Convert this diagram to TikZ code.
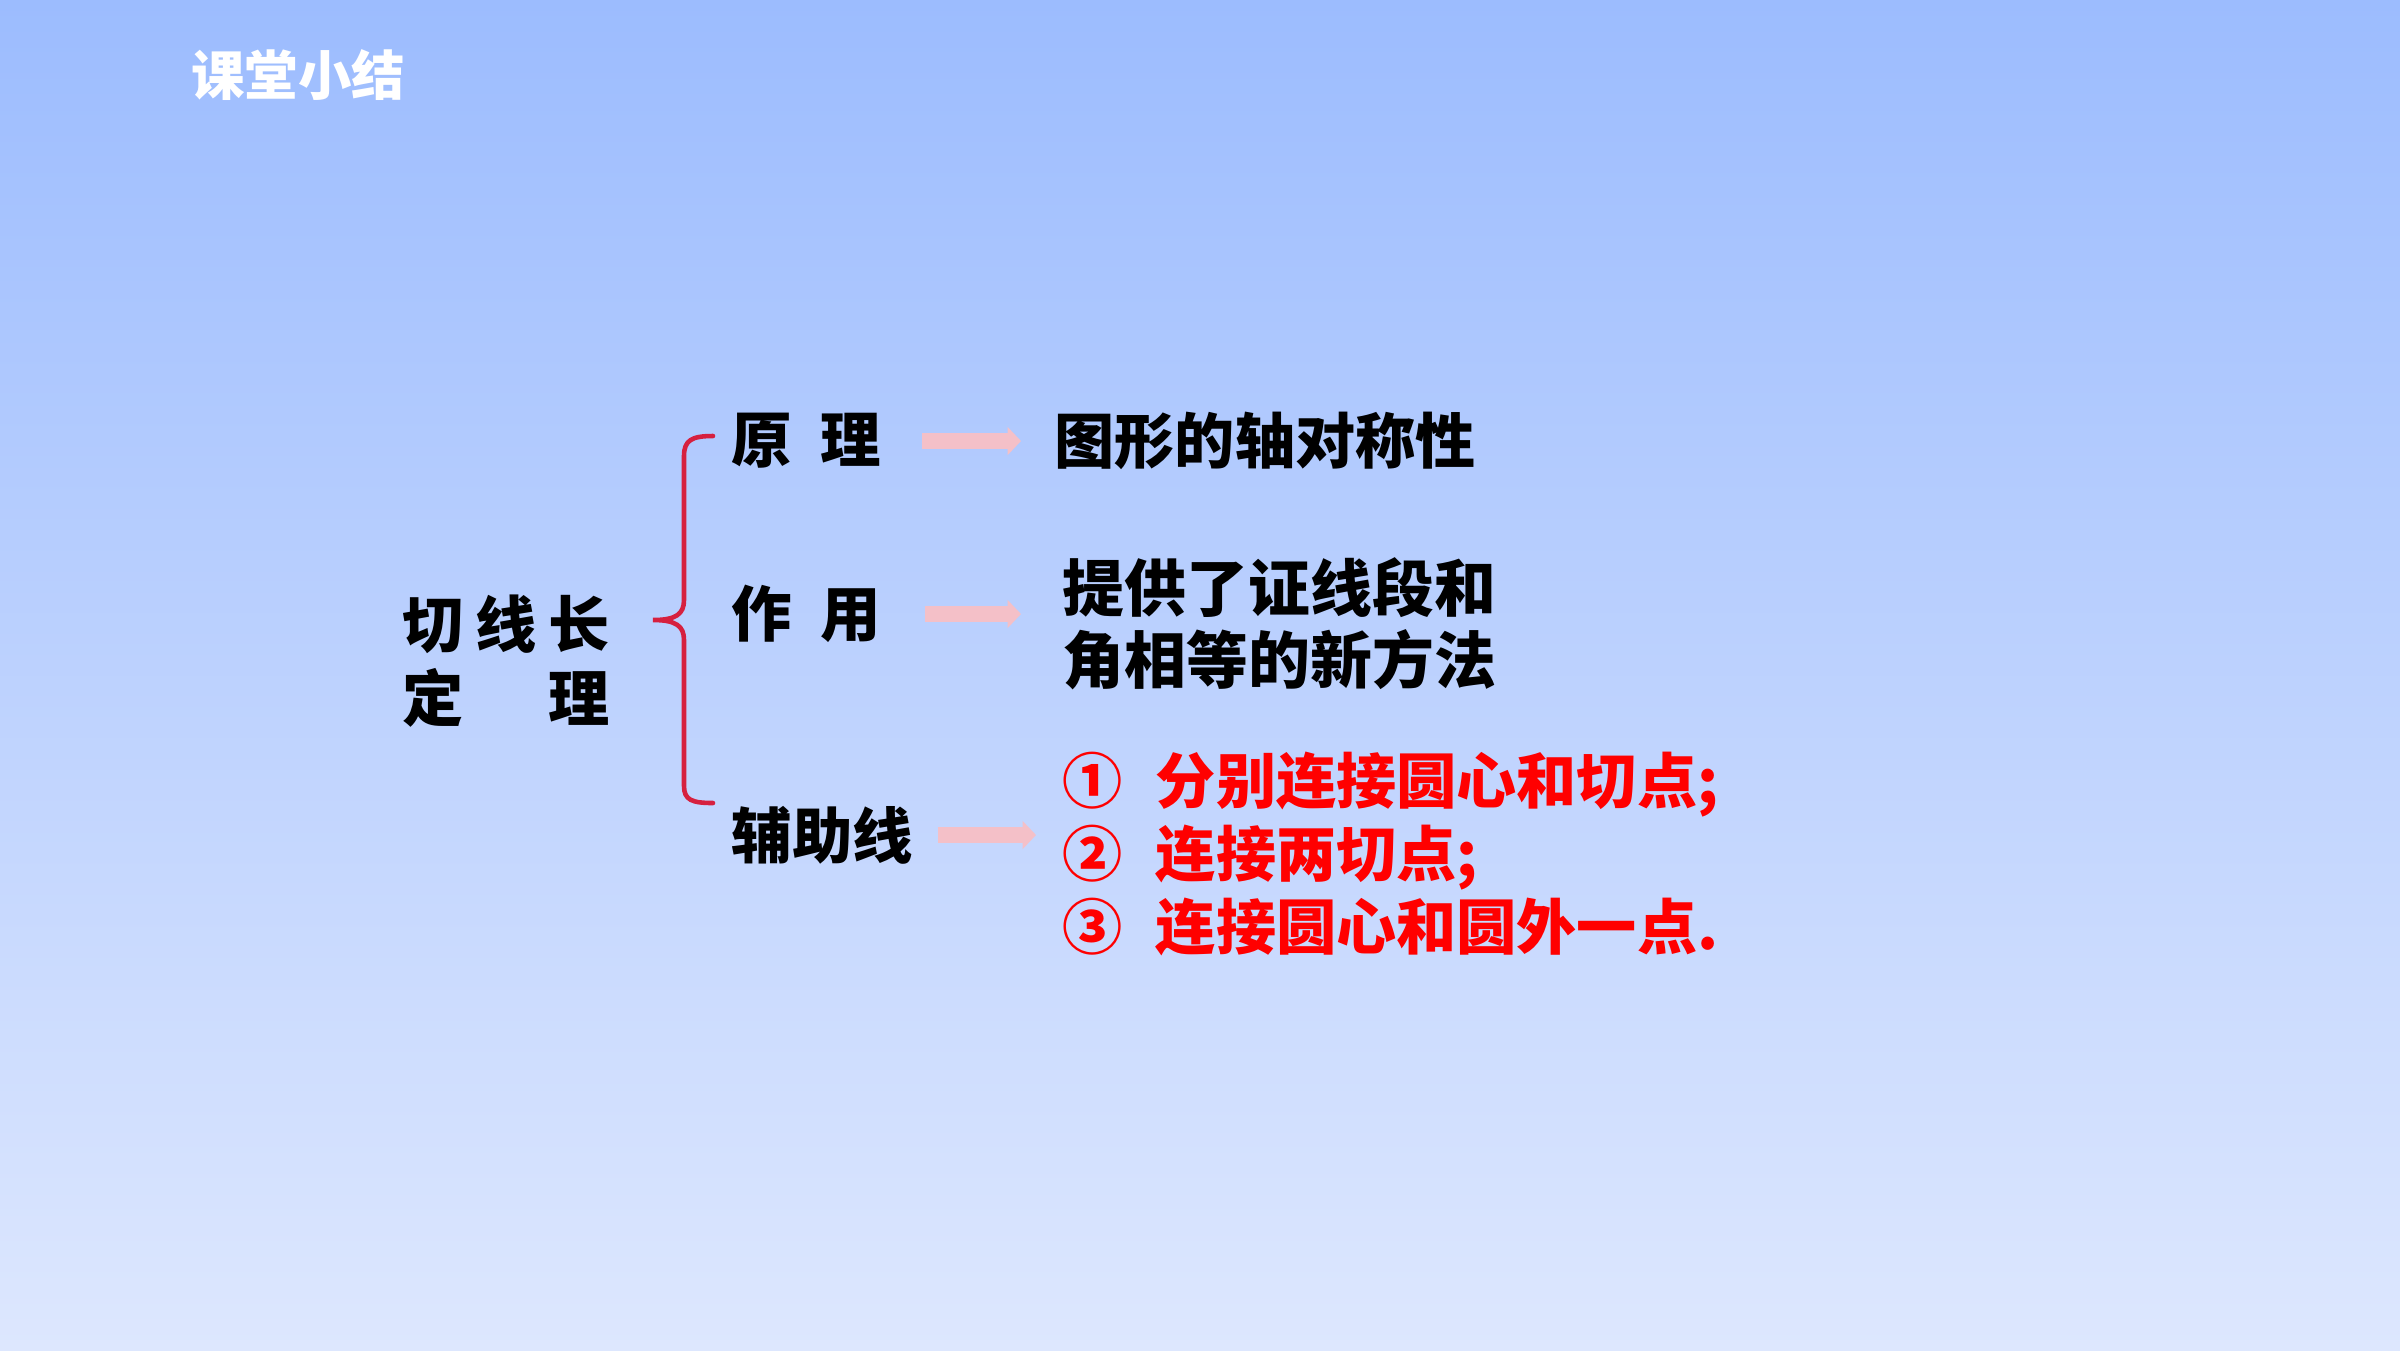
\documentclass[tikz,border=0pt]{standalone}
\usepackage{fontspec}
\setmainfont{Noto Sans CJK SC}
\usepackage{xcolor}
\usepackage{tikz}
\usetikzlibrary{arrows.meta,positioning}

\definecolor{bgtop}{HTML}{9CBCFE}
\definecolor{bgbot}{HTML}{DDE7FE}
\definecolor{bracered}{HTML}{D6203F}
\definecolor{arrowpink}{HTML}{F4C0C8}
\definecolor{listred}{HTML}{FF0000}

\tikzset{
  bodytext/.style={inner sep=0pt,anchor=west,font=\fontsize{17.2}{20.5}\selectfont\bfseries,align=left},
  pinkarrow/.style={draw=arrowpink,line width=4.3pt,-{Triangle[length=3.8pt,width=7.8pt]}},
  redbrace/.style={draw=bracered,line width=1.3pt,line cap=round}
}

\begin{document}
\begin{tikzpicture}[x=0.01cm,y=-0.01cm]
% Background
\shade[top color=bgtop,bottom color=bgbot] (0,0) rectangle (2400,1350);
\useasboundingbox (0,0) rectangle (2400,1350);

% Title
\node[inner sep=0pt,text=white,font=\fontsize{15.2}{18}\selectfont\bfseries] (title) at (298,75) {课堂小结};

% Theorem name
\node[bodytext,font=\fontsize{17.4}{21}\selectfont\bfseries] (theorem) at (402,661)
  {\makebox[2.07cm][s]{切\hfill 线\hfill 长}\\\makebox[2.07cm][s]{定\hfill 理}};

% Brace
\draw[redbrace] (713,436) .. controls (692,436) and (684,440) .. (684,456) -- (684,600)
  .. controls (684,614) and (676,620) .. (653,620)
  .. controls (676,620) and (684,626) .. (684,640) -- (684,786)
  .. controls (684,800) and (692,803) .. (713,803);

% Branches
\node[bodytext] (yuanli) at (731,441) {原\hspace{0.47em}理};
\node[bodytext] (zuoyong) at (731,614) {作\hspace{0.47em}用};
\node[bodytext] (fuzhu) at (731,835) {辅助线};

% Contents
\node[bodytext,font=\fontsize{17.1}{20.5}\selectfont\bfseries] (tuxing) at (1054,441) {图形的轴对称性};
\node[bodytext,font=\fontsize{17.6}{20.5}\selectfont\bfseries] (tigong) at (1062,624)
  {提供了证线段和\\角相等的新方法};
\node[bodytext,text=listred,font=\fontsize{17.1}{20.8}\selectfont\bfseries] (method) at (1062,854)
  {①\hspace{0.55em}分别连接圆心和切点;\\②\hspace{0.55em}连接两切点;\\③\hspace{0.55em}连接圆心和圆外一点.};

% Arrows
\draw[pinkarrow,shorten <=0.4cm,shorten >=0.33cm] (yuanli.east) -- (yuanli.east -| tuxing.west);
\draw[pinkarrow,shorten <=0.43cm,shorten >=0.41cm] (zuoyong.east) -- (zuoyong.east -| tigong.west);
\draw[pinkarrow,shorten <=0.24cm,shorten >=0.26cm] (fuzhu.east) -- (fuzhu.east -| method.west);
\end{tikzpicture}
\end{document}
